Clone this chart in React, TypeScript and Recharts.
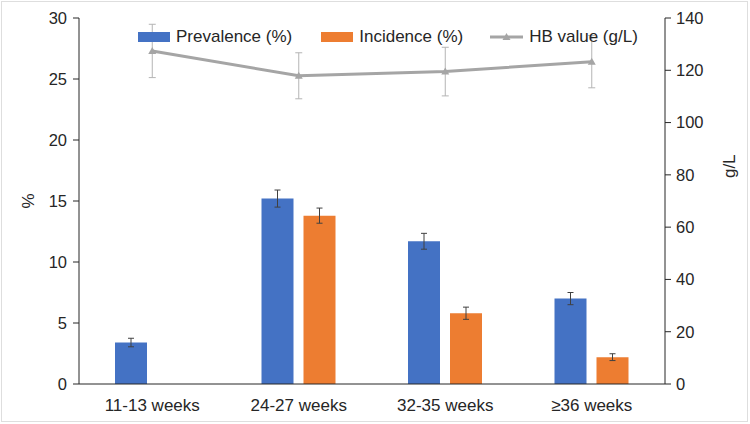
import React from 'react';
import { ComposedChart, Bar, Line, XAxis, YAxis, ErrorBar, Legend } from 'recharts';

// Gestational-age groups
const categories = ['11-13 weeks', '24-27 weeks', '32-35 weeks', '≥36 weeks'];

// Anaemia prevalence / incidence (%) with error margins
const prevalence = [3.4, 15.2, 11.7, 7.0];
const prevalenceErr = [0.35, 0.7, 0.65, 0.5];
const incidence: (number | null)[] = [null, 13.8, 5.8, 2.2];
const incidenceErr: (number | null)[] = [null, 0.62, 0.5, 0.28];

// Haemoglobin (g/L) with error margins
const hbValue = [127.4, 117.9, 119.5, 123.3];
const hbErr = [10.2, 8.8, 9.3, 10.0];

const leftTicks = [0, 5, 10, 15, 20, 25, 30];
const rightTicks = [0, 20, 40, 60, 80, 100, 120, 140];

const seriesNames = ['Prevalence (%)', 'Incidence (%)', 'HB value (g/L)'];

const BLUE = '#4472C4';
const ORANGE = '#ED7D31';
const GREY = '#A5A5A5';
const AXIS = '#262626';
const FONT = '"Liberation Sans", Arial, sans-serif';

const data = categories.map((week, i) => ({
  week,
  prevalence: prevalence[i],
  prevalenceErr: prevalenceErr[i],
  incidence: incidence[i],
  incidenceErr: incidenceErr[i],
  hb: hbValue[i],
  hbErr: hbErr[i],
}));

const TriangleDot = (props: any) => {
  const { cx, cy } = props;
  if (cx == null || cy == null) return null;
  return (
    <polygon
      points={`${cx - 4},${cy + 3} ${cx + 4},${cy + 3} ${cx},${cy - 4}`}
      fill={GREY}
    />
  );
};

const LegendContent = () => {
  const item = (icon: React.ReactNode, label: string, key: string, gapAfter: number) => (
    <div key={key} style={{ display: 'flex', alignItems: 'center', marginRight: gapAfter }}>
      {icon}
      <span style={{ marginLeft: 6, fontSize: 17, color: AXIS, lineHeight: '18px', whiteSpace: 'nowrap' }}>{label}</span>
    </div>
  );
  return (
    <div style={{ display: 'flex', alignItems: 'center', fontFamily: FONT }}>
      {item(<div style={{ width: 32, height: 10, background: BLUE }} />, seriesNames[0], 'p', 29)}
      {item(<div style={{ width: 32, height: 10, background: ORANGE }} />, seriesNames[1], 'i', 27)}
      {item(
        <svg width={33} height={10}>
          <line x1={0} y1={5} x2={33} y2={5} stroke={GREY} strokeWidth={3} />
          <polygon points="12.5,8 20.5,8 16.5,1" fill={GREY} />
        </svg>,
        seriesNames[2],
        'h',
        0
      )}
    </div>
  );
};

const PercentLabel = (props: any) => {
  const vb = props.viewBox || { x: 0, y: 0, width: 0, height: 0 };
  const x = vb.x + 28;
  const y = vb.y + vb.height / 2;
  return (
    <text x={x} y={y} transform={`rotate(-90 ${x} ${y})`} textAnchor="middle" dominantBaseline="central"
      fontSize={17} fill={AXIS} fontFamily={FONT}>%</text>
  );
};

const GramLabel = (props: any) => {
  const vb = props.viewBox || { x: 0, y: 0, width: 0, height: 0 };
  const x = vb.x + 65;
  const y = vb.y + vb.height * 0.405;
  return (
    <text x={x} y={y} transform={`rotate(-90 ${x} ${y})`} textAnchor="middle" dominantBaseline="central"
      fontSize={17} fill={AXIS} fontFamily={FONT}>g/L</text>
  );
};

export default function App() {
  return (
    <div style={{ position: 'absolute', left: 0, top: 0, width: 750, height: 424, background: '#fff' }}>
      <ComposedChart
        width={750}
        height={424}
        data={data}
        margin={{ top: 18, right: 0, bottom: 0, left: 0 }}
        barSize={32}
        barGap={10}
        style={{ fontFamily: FONT }}
      >
        <XAxis
          dataKey="week"
          height={40}
          tickLine={false}
          tickSize={6}
          tickMargin={9}
          stroke={AXIS}
          tick={{ fill: AXIS, fontSize: 17 }}
          interval={0}
        />
        <YAxis
          yAxisId="left"
          width={79}
          domain={[0, 30]}
          ticks={leftTicks}
          tickSize={6}
          tickMargin={6}
          stroke={AXIS}
          tick={{ fill: AXIS, fontSize: 16.5 }}
          label={<PercentLabel />}
        />
        <YAxis
          yAxisId="right"
          orientation="right"
          width={85}
          domain={[0, 140]}
          ticks={rightTicks}
          tickSize={6}
          tickMargin={5}
          stroke={AXIS}
          tick={{ fill: AXIS, fontSize: 16.5 }}
          label={<GramLabel />}
        />
        <Legend
          verticalAlign="middle"
          align="center"
          layout="horizontal"
          content={<LegendContent />}
          wrapperStyle={{ top: 28, left: 138, width: 580, height: 18 }}
        />
        <Bar yAxisId="left" dataKey="prevalence" name={seriesNames[0]} fill={BLUE} isAnimationActive={false}>
          <ErrorBar dataKey="prevalenceErr" width={3} stroke="#404040" strokeWidth={1} />
        </Bar>
        <Bar yAxisId="left" dataKey="incidence" name={seriesNames[1]} fill={ORANGE} isAnimationActive={false}>
          <ErrorBar dataKey="incidenceErr" width={3} stroke="#404040" strokeWidth={1} />
        </Bar>
        <Line
          yAxisId="right"
          dataKey="hb"
          name={seriesNames[2]}
          stroke={GREY}
          strokeWidth={3}
          dot={<TriangleDot />}
          activeDot={false}
          isAnimationActive={false}
        >
          <ErrorBar dataKey="hbErr" width={3.5} stroke="#B4B4B4" strokeWidth={1} />
        </Line>
      </ComposedChart>
      <div
        style={{
          position: 'absolute',
          left: 1,
          top: 1,
          width: 747,
          height: 421,
          border: '1px solid #dedede',
          boxSizing: 'border-box',
          pointerEvents: 'none',
        }}
      />
    </div>
  );
}
